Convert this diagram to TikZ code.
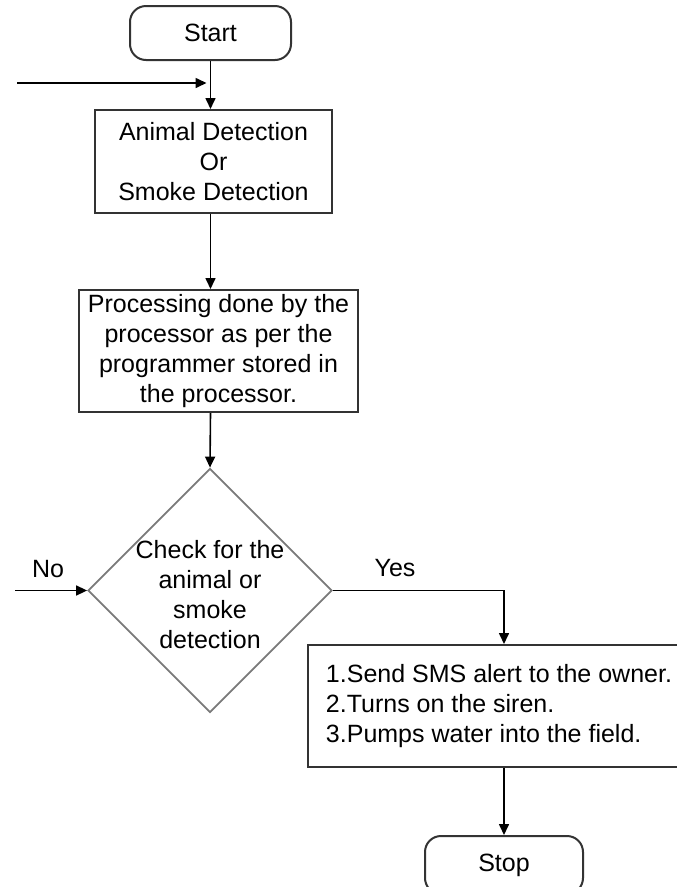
\documentclass[tikz,border=0pt]{standalone}
\usepackage{fontspec}
\setmainfont{Liberation Sans}
\usetikzlibrary{arrows.meta,shapes.geometric}
\definecolor{boxgray}{HTML}{333333}
\definecolor{diagray}{HTML}{7a7a7a}
\begin{document}
\begin{tikzpicture}[x=1pt,y=-1pt,
  txt/.style={font=\fontsize{25}{30}\selectfont, text=black},
  boxstyle/.style={txt, draw=boxgray, line width=2pt, rectangle, inner sep=2pt, align=center},
  term/.style={boxstyle, rounded corners=16pt},
  conn/.style={line width=1.6pt, draw=black, -{Triangle[length=11pt,width=10pt]}}]
\clip (0,0) rectangle (677,887);
\fill[white] (0,0) rectangle (677,887);

\node[term, minimum width=161pt, minimum height=54pt] (start) at (210.5,33) {Start};
\node[boxstyle, minimum width=237pt, minimum height=103pt] (anim) at (213.5,161.5) {Animal Detection\\Or\\Smoke Detection};
\node[boxstyle, minimum width=279pt, minimum height=122pt] (proc) at (218.5,351) {Processing done by the\\processor as per the\\programmer stored in\\the processor.};
\node[diamond, draw=diagray, line width=1.8pt, minimum width=244pt, minimum height=244pt, inner sep=0pt] (chk) at (210,590.5) {};
\node[txt, align=center] (chktext) at (210,595) {Check for the\\animal or\\smoke\\detection};
\node[boxstyle, minimum width=382pt, minimum height=122pt, align=left] (act) at (499,706) {1.Send SMS alert to the owner.\\2.Turns on the siren.\\3.Pumps water into the field.};
\node[term, minimum width=158pt, minimum height=58pt] (stop) at (504,865) {Stop};

\coordinate (inA) at (17,83);
\coordinate (noA) at (15,590.5);
\coordinate (yesbend) at (504,590.5);

\draw[conn] (start.south) -- (start.south |- anim.north);
\draw[conn, shorten >=4pt] (inA) -- (inA -| start.south);
\draw[conn] (anim.south -| start.south) -- (start.south |- proc.north);
\draw[conn] (start.south |- proc.south) -- (chk.north);
\draw[conn] (noA) -- (chk.west);
\node[txt] (nolabel) at (48,569) {No};
\draw[conn] (chk.east) -- (yesbend) -- (yesbend |- act.north);
\node[txt] (yeslabel) at (395,568) {Yes};
\draw[conn] (stop.north |- act.south) -- (stop.north);
\end{tikzpicture}
\end{document}
